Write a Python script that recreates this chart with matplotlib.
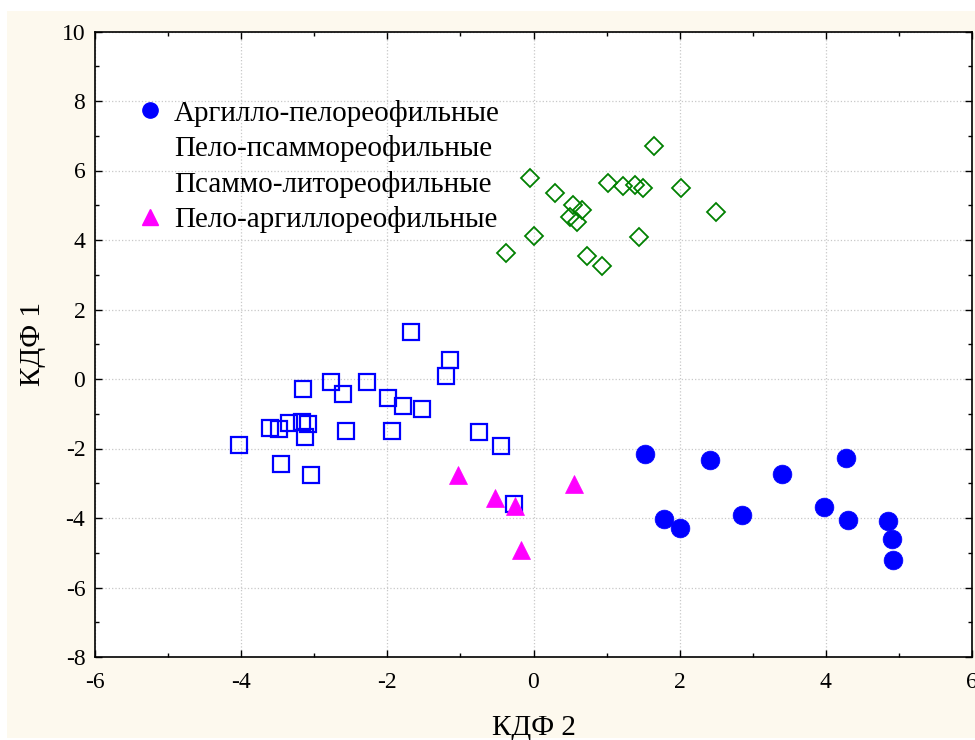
import matplotlib
matplotlib.use("Agg")
import matplotlib.pyplot as plt
from matplotlib.lines import Line2D
from matplotlib.patches import Rectangle
from matplotlib.ticker import MultipleLocator

plt.rcParams['font.family'] = ['Liberation Serif', 'DejaVu Serif']
plt.rcParams['axes.unicode_minus'] = False

# Аргилло-пелореофильные (filled circles)
circ_x = [1.52, 1.79, 2.01, 2.42, 2.85, 3.40, 3.97, 4.27, 4.31, 4.855, 4.90, 4.92]
circ_y = [-2.16, -4.04, -4.29, -2.34, -3.91, -2.72, -3.67, -2.27, -4.07, -4.10, -4.61, -5.21]

# Пело-псаммореофильные (open squares)
sq_x = [-1.68, -1.14, -1.20, -3.15, -2.77, -2.61, -2.28, -1.99, -1.79, -1.52,
        -3.61, -3.48, -3.34, -3.17, -3.08, -3.12, -2.57, -1.93, -4.03, -3.46,
        -3.04, -0.745, -0.445, -0.26]
sq_y = [1.36, 0.55, 0.08, -0.29, -0.09, -0.44, -0.10, -0.54, -0.78, -0.86,
        -1.42, -1.44, -1.28, -1.23, -1.29, -1.68, -1.50, -1.51, -1.91, -2.44,
        -2.76, -1.53, -1.94, -3.60]

# Псаммо-литореофильные (open diamonds)
dia_x = [1.65, -0.05, 0.29, 1.02, 1.22, 1.39, 1.50, 2.02, 2.50, 0.54,
         0.67, 0.50, 0.60, 0.00, 1.45, -0.37, 0.73, 0.94]
dia_y = [6.71, 5.79, 5.36, 5.63, 5.56, 5.59, 5.51, 5.49, 4.81, 5.00,
         4.86, 4.67, 4.51, 4.12, 4.08, 3.62, 3.54, 3.24]

# Пело-аргиллореофильные (filled triangles)
tri_x = [-1.03, -0.52, -0.25, -0.175, 0.56]
tri_y = [-2.76, -3.42, -3.65, -4.92, -3.03]

labels = ["Аргилло-пелореофильные", "Пело-псаммореофильные",
          "Псаммо-литореофильные", "Пело-аргиллореофильные"]

x_ticks = [-6, -4, -2, 0, 2, 4, 6]
y_ticks = [-8, -6, -4, -2, 0, 2, 4, 6, 8, 10]

fig = plt.figure(figsize=(9.75, 7.4), dpi=100)
fig.patch.set_facecolor('white')
fig.patches.append(Rectangle((7 / 975, 2 / 740), 1, 1 - 13 / 740, transform=fig.transFigure,
                             facecolor='#fdf9ee', edgecolor='none', zorder=-10))
ax = fig.add_axes([95 / 975, 1 - 657 / 740, (972 - 95) / 975, (657 - 31.5) / 740])
ax.set_facecolor('white')

ax.plot(sq_x, sq_y, linestyle='none', marker='s', markersize=12, markerfacecolor='none',
        markeredgecolor='#0000ff', markeredgewidth=1.6, zorder=3)
ax.plot(dia_x, dia_y, linestyle='none', marker='D', markersize=9, markerfacecolor='none',
        markeredgecolor='#008000', markeredgewidth=1.3, zorder=3)
ax.plot(tri_x, tri_y, linestyle='none', marker='^', markersize=13.5, markerfacecolor='#ff00ff',
        markeredgecolor='#ff00ff', markeredgewidth=0.5, zorder=4)
ax.plot(circ_x, circ_y, linestyle='none', marker='o', markersize=13.5, markerfacecolor='#0000ff',
        markeredgecolor='#0000ff', markeredgewidth=0.5, zorder=4)

ax.set_xlim(-6, 6)
ax.set_ylim(-8, 10)
ax.set_xticks(x_ticks)
ax.set_yticks(y_ticks)
ax.xaxis.set_minor_locator(MultipleLocator(1))
ax.yaxis.set_minor_locator(MultipleLocator(1))
ax.tick_params(which='both', direction='in', top=True, right=True, labelsize=17, width=1)
ax.tick_params(which='major', length=5)
ax.tick_params(which='minor', length=3)
ax.tick_params(axis='x', which='major', pad=11)
ax.tick_params(axis='y', which='major', pad=7)
for s in ax.spines.values():
    s.set_linewidth(1.2)
ax.grid(True, which='major', linestyle=':', color='#c8c8c8', linewidth=0.9)
ax.set_axisbelow(True)

ax.set_xlabel("КДФ 2", fontsize=21)
ax.set_ylabel("КДФ 1", fontsize=21)
ax.xaxis.set_label_coords(0.5, -0.092)
ax.yaxis.set_label_coords(-0.056, 0.5)

handles = [
    Line2D([], [], linestyle='none', marker='o', markersize=11, markerfacecolor='#0000ff', markeredgecolor='#0000ff'),
    Line2D([], [], linestyle='none', marker='s', markersize=9, markerfacecolor='none', markeredgecolor='none'),
    Line2D([], [], linestyle='none', marker='D', markersize=9, markerfacecolor='none', markeredgecolor='none'),
    Line2D([], [], linestyle='none', marker='^', markersize=12, markerfacecolor='#ff00ff', markeredgecolor='#ff00ff'),
]
leg = ax.legend(handles, labels, loc='upper left', bbox_to_anchor=(0.046, 0.891), frameon=False,
                fontsize=21, handletextpad=0.33, labelspacing=0.29, handlelength=1.0,
                borderaxespad=0, borderpad=0)

fig.savefig("out.png", dpi=100, facecolor=fig.get_facecolor())
